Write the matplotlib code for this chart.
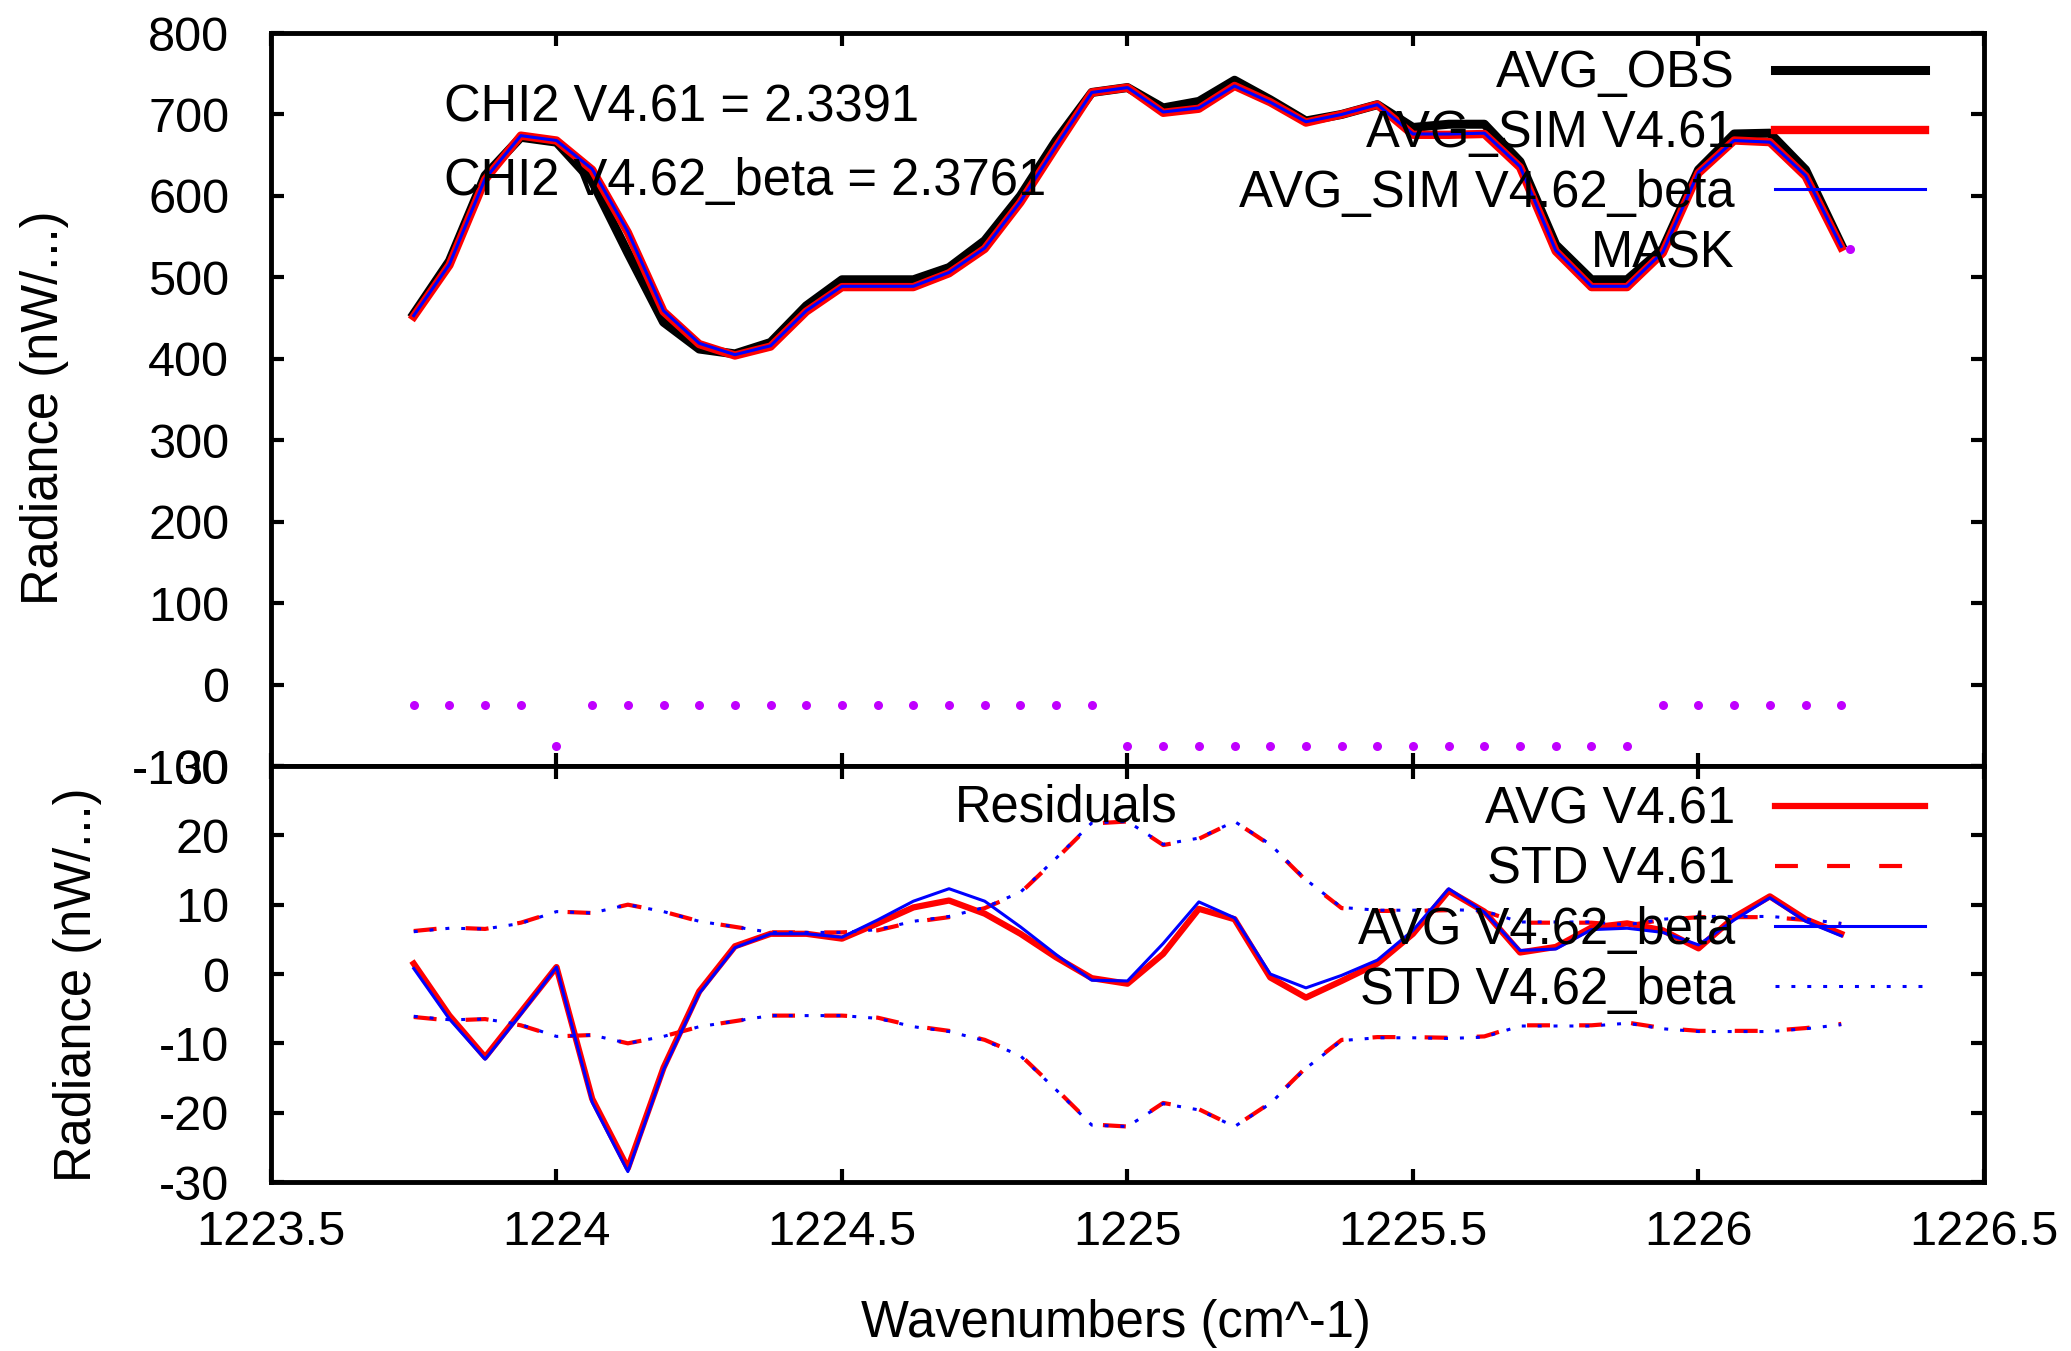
import matplotlib
matplotlib.use('Agg')
import matplotlib.pyplot as plt
from matplotlib.ticker import FixedLocator

plt.rcParams['font.family'] = ['Liberation Sans', 'DejaVu Sans']
plt.rcParams['font.size'] = 36.5

# ---------------- data ----------------
wavenumber = [1223.75, 1223.8125, 1223.875, 1223.9375, 1224.0, 1224.0625, 1224.125,
              1224.1875, 1224.25, 1224.3125, 1224.375, 1224.4375, 1224.5, 1224.5625,
              1224.625, 1224.6875, 1224.75, 1224.8125, 1224.875, 1224.9375, 1225.0,
              1225.0625, 1225.125, 1225.1875, 1225.25, 1225.3125, 1225.375, 1225.4375,
              1225.5, 1225.5625, 1225.625, 1225.6875, 1225.75, 1225.8125, 1225.875,
              1225.9375, 1226.0, 1226.0625, 1226.125, 1226.1875, 1226.25]

avg_obs = [455, 520, 625, 672, 666, 618, 530, 445, 412, 406, 420, 465, 497, 497,
           497, 512, 545, 600, 668, 727, 733, 708, 716, 742, 718, 692, 700, 712,
           684, 688, 688, 642, 540, 497, 497, 535, 632, 676, 677, 632, 540]
avg_sim_v461 = [452, 515, 620, 674, 668, 632, 555, 458, 418, 404, 415, 458, 488, 488,
                488, 505, 535, 592, 660, 727, 733, 702, 707, 735, 715, 690, 700, 712,
                675, 675, 676, 635, 532, 488, 488, 530, 628, 668, 666, 624, 537]
avg_sim_v462 = [453, 516, 621, 674, 668, 633, 556, 459, 419, 405, 416, 459, 489, 489,
                489, 506, 536, 593, 661, 727, 733, 703, 708, 735, 715, 691, 700, 712,
                676, 676, 677, 636, 533, 489, 489, 531, 629, 668, 666, 625, 538]
mask = [-25, -25, -25, -25, -75, -25, -25, -25, -25, -25, -25, -25, -25, -25,
        -25, -25, -25, -25, -25, -25, -75, -75, -75, -75, -75, -75, -75, -75,
        -75, -75, -75, -75, -75, -75, -75, -25, -25, -25, -25, -25, -25]

res_avg_v461 = [1.5, -6, -12, -5.5, 1.0, -18, -28, -13.5, -2.5, 4, 5.8, 5.8, 5.1, 7.3,
                9.6, 10.6, 8.7, 5.8, 2.4, -0.6, -1.4, 2.9, 9.4, 7.9, -0.5, -3.4, -1.0,
                1.5, 5.8, 12.0, 9.0, 3.1, 3.9, 6.7, 7.3, 6.3, 3.7, 8.2, 11.2, 7.9, 5.8]
res_std_v461 = [6.2, 6.7, 6.5, 7.4, 9.0, 8.8, 10.0, 9.0, 7.6, 6.8, 6.0, 6.0, 6.0, 6.3,
                7.5, 8.2, 9.5, 11.7, 16.6, 21.7, 22.0, 18.6, 19.5, 22.0, 18.6, 13.5,
                9.5, 9.1, 9.1, 9.2, 9.0, 7.4, 7.4, 7.4, 7.0, 7.8, 8.2, 8.2, 8.2, 7.8, 7.2]
res_avg_v462 = [0.8, -6.5, -12.3, -5.8, 1.0, -18.5, -28.5, -13.8, -2.8, 3.8, 5.8, 5.8,
                5.3, 7.8, 10.5, 12.3, 10.5, 6.8, 2.8, -0.9, -1.0, 4.4, 10.4, 8.1, 0.0,
                -2.0, -0.2, 2.0, 6.3, 12.3, 8.9, 3.4, 3.6, 6.4, 6.6, 6.0, 4.2, 7.8,
                11.0, 7.6, 5.5]
res_std_v462 = [6.1, 6.6, 6.5, 7.3, 9.0, 8.8, 10.0, 9.0, 7.6, 6.8, 6.0, 6.0, 6.0, 6.4,
                7.6, 8.3, 9.6, 11.8, 16.7, 21.8, 22.0, 18.7, 19.6, 22.0, 18.7, 13.6,
                9.6, 9.2, 9.2, 9.3, 9.1, 7.5, 7.5, 7.5, 7.1, 7.9, 8.3, 8.3, 8.3, 7.9, 7.3]

chi2_labels = ["CHI2 V4.61 = 2.3391", "CHI2 V4.62_beta = 2.3761"]
x_ticks = [1223.5, 1224.0, 1224.5, 1225.0, 1225.5, 1226.0, 1226.5]
x_ticklabels = ["1223.5", "1224", "1224.5", "1225", "1225.5", "1226", "1226.5"]
y1_ticks = [-100, 0, 100, 200, 300, 400, 500, 600, 700, 800]
y2_ticks = [-30, -20, -10, 0, 10, 20, 30]

RED = '#ff0000'
BLUE = '#0000ff'
VIOLET = '#c000ff'

# ---------------- figure ----------------
fig = plt.figure(figsize=(20.71, 13.51), dpi=100)
ax1 = fig.add_axes([0.13085, 0.43301, 0.82714, 0.54256])
ax2 = fig.add_axes([0.13085, 0.12509, 0.82714, 0.30792])

# upper panel
ax1.plot(wavenumber, avg_obs, color='black', lw=6.5, label='AVG_OBS')
ax1.plot(wavenumber, avg_sim_v461, color=RED, lw=6.0, label='AVG_SIM V4.61')
ax1.plot(wavenumber, avg_sim_v462, color=BLUE, lw=2.2, label='AVG_SIM V4.62_beta')
ax1.plot(wavenumber, mask, linestyle='none', marker='o', ms=6.5, color=VIOLET,
         markeredgewidth=0, label='MASK')

ax1.text(0.1008, 0.879, chi2_labels[0], transform=ax1.transAxes, va='baseline', ha='left')
ax1.text(0.1008, 0.779, chi2_labels[1], transform=ax1.transAxes, va='baseline', ha='left')

# lower panel
ax2.plot(wavenumber, res_avg_v461, color=RED, lw=4.5, label='AVG V4.61')
ax2.plot(wavenumber, res_std_v461, color=RED, lw=3.0, dashes=(5.5, 7.0),
         label='STD V4.61')
ax2.plot(wavenumber, [-v for v in res_std_v461], color=RED, lw=3.0, dashes=(5.5, 7.0))
ax2.plot(wavenumber, res_avg_v462, color=BLUE, lw=2.2, label='AVG V4.62_beta')
ax2.plot(wavenumber, res_std_v462, color=BLUE, lw=2.2, dashes=(1.3, 3.9),
         label='STD V4.62_beta')
ax2.plot(wavenumber, [-v for v in res_std_v462], color=BLUE, lw=2.2, dashes=(1.3, 3.9))

ax2.text(0.3995, 0.866, 'Residuals', transform=ax2.transAxes, va='baseline', ha='left')

# axes styling
for ax in (ax1, ax2):
    ax.set_xlim(1223.5, 1226.5)
    ax.xaxis.set_major_locator(FixedLocator(x_ticks))
    for sp in ax.spines.values():
        sp.set_linewidth(3.5)
    ax.tick_params(direction='in', length=9.5, width=3.0, top=True, right=True,
                   labelsize=35, color='black')
    ax.tick_params(axis='y', pad=30)
    ax.tick_params(axis='x', pad=20)

ax1.set_ylim(-100, 800)
ax1.set_yticks(y1_ticks)
ax1.set_yticklabels([str(v) for v in y1_ticks])
ax1.tick_params(labelbottom=False)

ax2.set_ylim(-30, 30)
ax2.set_yticks(y2_ticks)
ax2.set_yticklabels([str(v) for v in y2_ticks])
ax2.set_xticklabels(x_ticklabels)

# legends
leg_kw = dict(loc='upper right', markerfirst=False, frameon=False, borderpad=0,
              borderaxespad=0, handlelength=2.96, handletextpad=0.79,
              labelspacing=0.215, fontsize=36.5, numpoints=1)
ax1.legend(bbox_to_anchor=(0.9656, 0.9776), **leg_kw)
ax2.legend(bbox_to_anchor=(0.9656, 0.952), **leg_kw)

# axis labels
fig.text(0.0217, 1 - 408 / 1351, 'Radiance (nW/...)', rotation=90, ha='center', va='center')
fig.text(0.0372, 1 - 985 / 1351, 'Radiance (nW/...)', rotation=90, ha='center', va='center')
fig.text(1116 / 2071, 1 - 1323 / 1351, 'Wavenumbers (cm^-1)', ha='center', va='center')

fig.savefig('out.png', dpi=100)
